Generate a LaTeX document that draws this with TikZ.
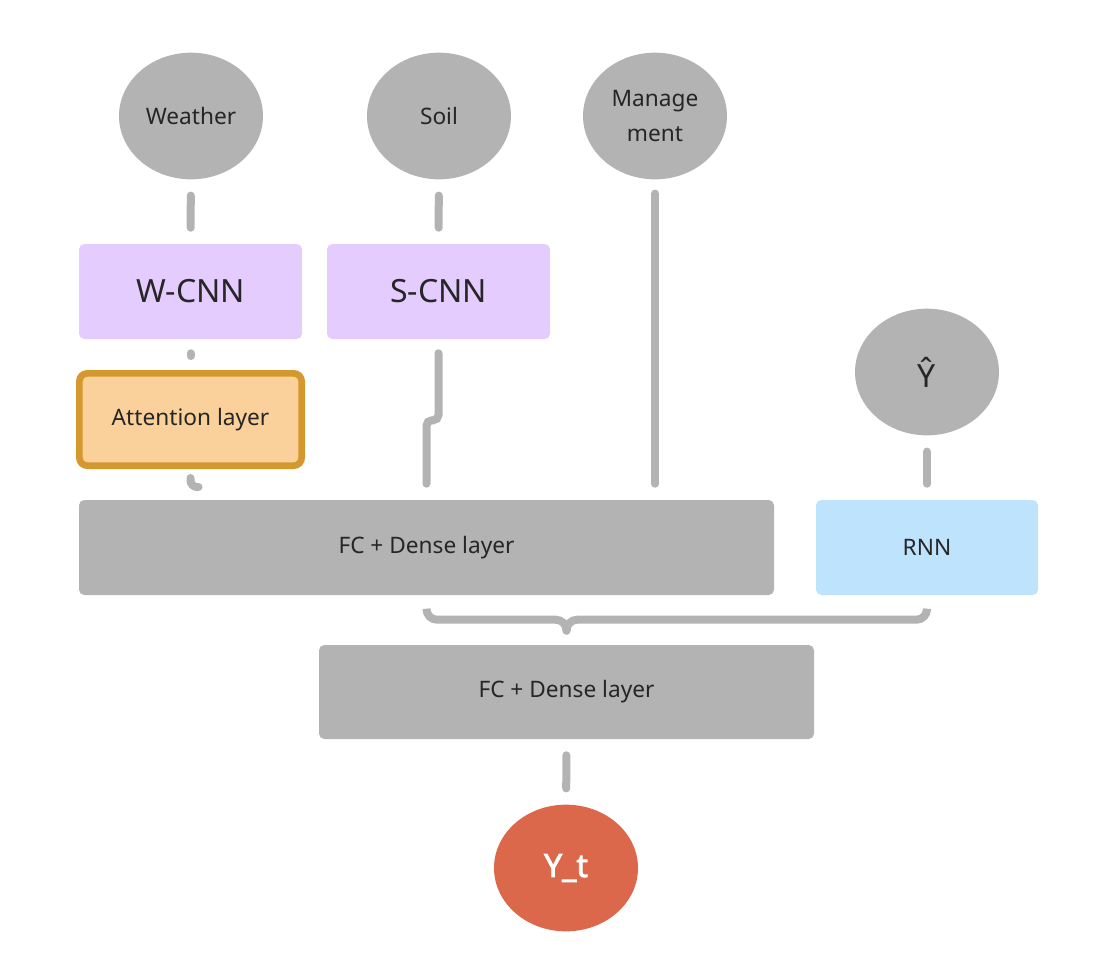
\documentclass[tikz,border=0pt]{standalone}
\usepackage{fontspec}
\setmainfont{Noto Sans}
\newfontfamily\outfont{Noto Sans}[FakeBold=2.5]
\usepackage{tikz}
\usetikzlibrary{shapes.geometric,calc}
\definecolor{nodegray}{HTML}{B3B3B3}
\definecolor{cnnpurple}{HTML}{E5CCFF}
\definecolor{attfill}{HTML}{FBD19B}
\definecolor{attedge}{HTML}{D4992E}
\definecolor{rnnblue}{HTML}{BEE3FD}
\definecolor{outred}{HTML}{DC684B}
\definecolor{textdark}{HTML}{262626}
\tikzset{
  src/.style={ellipse, fill=nodegray, minimum width=108pt, minimum height=95pt,
              inner sep=0pt, align=center, text=textdark, font=\fontsize{17}{26}\selectfont},
  cnn/.style={fill=cnnpurple, rounded corners=4pt, minimum width=167.25pt,
              minimum height=71.25pt, text=textdark, font=\fontsize{24}{28}\selectfont},
  dense/.style={fill=nodegray, rounded corners=4pt, minimum height=71.25pt,
                text=textdark, font=\fontsize{17}{21}\selectfont},
  link/.style={draw=nodegray, line width=6pt, line cap=round,
               shorten <=12pt, shorten >=12pt}
}
\begin{document}
\begin{tikzpicture}[x=0.75pt, y=-0.75pt]
\useasboundingbox (0,0) rectangle (1106,975);
\node[src] (weather) at (191,116) {Weather};
\node[src] (soil) at (439,116) {Soil};
\node[src] (mgmt) at (655,116) {Manage\\ment};
\node[cnn] (wcnn) at (190.5,291.5) {W-CNN};
\node[cnn] (scnn) at (438.5,291.5) {S-CNN};
\node[cnn, fill=attfill, draw=attedge, line width=5pt, rounded corners=6pt,
      minimum width=166.75pt, minimum height=69.25pt, font=\fontsize{17}{21}\selectfont] (att) at (190.5,419.5) {Attention layer};
\node[src, font=\fontsize{24}{28}\selectfont] (yhat) at (927,372) {Ŷ};
\node[dense, minimum width=521.25pt] (fc) at (426.5,547.5) {FC + Dense layer};
\node[dense, fill=rnnblue, minimum width=166.5pt] (rnn) at (927,547.5) {RNN};
\node[dense, minimum width=371.25pt, minimum height=70.5pt] (fc2) at (566.5,692) {FC + Dense layer};
\node[src, fill=outred, text=white, font=\outfont\fontsize{24}{28}\selectfont] (yt) at (566,868) {Y\_t};
\coordinate (join) at ($(fc2.north)+(0,-25)$);
\draw[link] (weather) -- (wcnn);
\draw[link] (soil) -- (scnn);
\draw[link, shorten <=10.5pt, shorten >=10.5pt] (wcnn) -- (att);
\draw[link, shorten <=10.5pt, rounded corners=4pt] (scnn.south) -- ++(0,81) -- ++(-12,0)
  -- ($(scnn.south |- fc.north)+(-12,0)$);
\draw[link, shorten <=6.75pt, shorten >=0pt, rounded corners=5pt] (att.south) -- ++(0,18) -- ++(8,0);
\draw[link, shorten <=10.5pt] (mgmt) -- (mgmt |- fc.north);
\draw[link] (yhat) -- (rnn);
\draw[link, shorten <=11pt, shorten >=0pt, rounded corners=8pt] (fc.south) |- (join) -- ($(join)+(0,11)$);
\draw[link, shorten <=11pt, shorten >=0pt, rounded corners=8pt] (rnn.south) |- (join) -- ($(join)+(0,11)$);
\draw[link] (fc2) -- (yt);
\end{tikzpicture}
\end{document}
